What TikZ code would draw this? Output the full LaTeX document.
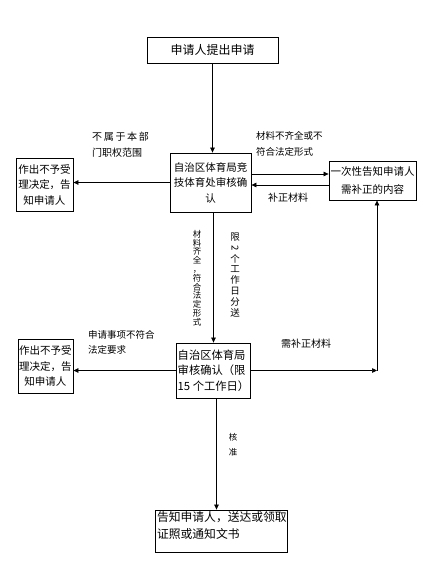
\documentclass[tikz,border=0pt]{standalone}
\usepackage{fontspec}
\newfontfamily\cjk{Noto Sans CJK SC}
\usetikzlibrary{arrows.meta, positioning, calc}

\begin{document}
\begin{tikzpicture}[
    x=1pt, y=-1pt,
    box/.style={rectangle, draw, line width=0.8pt, inner sep=1pt, align=center,
        font=\cjk\fontsize{10.5}{15.5}\selectfont},
    note/.style={inner sep=0pt, align=left, font=\cjk\fontsize{9.5}{16}\selectfont},
    vnote/.style={inner sep=0pt, align=center},
    arrow/.style={-{Triangle[length=5pt, width=4.5pt]}, line width=0.7pt}
]
\fill[white] (0,0) rectangle (439,571);
\useasboundingbox (0,0) rectangle (439,571);

% boxes
\node[box, minimum width=131pt, minimum height=26pt, font=\cjk\fontsize{12}{14}\selectfont] (apply) at (212.5,50) {申请人提出申请};
\node[box, minimum width=81pt, minimum height=59pt] (check1) at (210.5,182.5) {自治区体育局竞\\技体育处审核确\\认};
\node[box, minimum width=57pt, minimum height=53pt] (reject1) at (44.5,184.5) {作出不予受\\理决定，告\\知申请人};
\node[box, minimum width=87pt, minimum height=39pt, font=\cjk\fontsize{10.5}{18}\selectfont] (notify) at (372.5,180.5) {一次性告知申请人\\需补正的内容};
\node[box, minimum width=71pt, minimum height=55pt, align=left, font=\cjk\fontsize{11.3}{15.5}\selectfont] (check2) at (213.5,370.5) {自治区体育局\\审核确认（限\\15 个工作日）};
\node[box, minimum width=55pt, minimum height=54pt] (reject2) at (45.5,366) {作出不予受\\理决定，告\\知申请人};
\node[box, minimum width=132pt, minimum height=42pt, inner sep=1.5pt, font=\cjk\fontsize{11.8}{17}\selectfont] (result) at (221,531)
    {\begin{minipage}[c][38pt][t]{128pt}告知申请人，送达或领取\\证照或通知文书\end{minipage}};

% labels
\node[note, anchor=north west, font=\cjk\fontsize{10}{16}\selectfont] (outscope) at (92,132) {不\,属\,于\,本\,部\\门职权范围};
\node[note, anchor=north west] (lack) at (256,131) {材料不齐全或不\\符合法定形式};
\node[note, font=\cjk\fontsize{10}{12}\selectfont] (supply) at (288,198) {补正材料};
\node[vnote, font=\cjk\fontsize{8.5}{8.8}\selectfont] (complete) at (197,278) {材\\料\\齐\\全\\，\\符\\合\\法\\定\\形\\式};
\node[vnote, font=\cjk\fontsize{9.5}{10.9}\selectfont] (twodays) at (235,275) {限\\\rotatebox[origin=c]{-90}{2}\\个\\工\\作\\日\\分\\送};
\node[note, anchor=north west, font=\cjk\fontsize{9.5}{15}\selectfont] (notlegal) at (88,330) {申请事项不符合\\法定要求};
\node[note, font=\cjk\fontsize{10}{12}\selectfont] (needsupply) at (306,344) {需补正材料};
\node[vnote, font=\cjk\fontsize{8.5}{15}\selectfont] (approve) at (233,445) {核\\准};

% connectors
\coordinate (turn) at (377,370.5);
\draw[arrow] (apply.south) -- (apply.south |- check1.north);
\draw[arrow] ([yshift=8.5pt]check1.east) -- ([yshift=8.5pt]check1.east -| notify.west);
\draw[arrow] ([yshift=-4.5pt]notify.west) -- ([yshift=-4.5pt]notify.west -| check1.east);
\draw[arrow] (check1.west) -- (check1.west -| reject1.east);
\draw[arrow] (check1.south -| check2.north) -- (check2.north);
\draw[arrow] (check2.west) -- (check2.west -| reject2.east);
\draw[arrow] (check2.east) -- (turn);
\draw[arrow] (turn) -- (turn |- notify.south);
\draw[arrow] ([xshift=3pt]check2.south) -- ([xshift=3pt]check2.south |- result.north);
\end{tikzpicture}
\end{document}
